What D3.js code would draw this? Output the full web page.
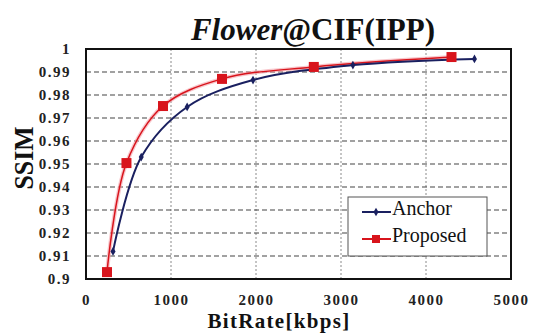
<!DOCTYPE html>
<html>
<head>
<meta charset="utf-8">
<script src="https://cdn.jsdelivr.net/npm/d3@7"></script>
<style>
  body { margin: 0; background: #fff; }
</style>
</head>
<body>
<div id="chart"></div>
<script>
// data
const anchorRate = [318, 650, 1190, 1965, 3140, 4570];
const anchorSsim = [0.912, 0.953, 0.9748, 0.9865, 0.993, 0.9957];
const proposedRate = [247, 476, 906, 1600, 2680, 4300];
const proposedSsim = [0.903, 0.9504, 0.9752, 0.987, 0.9922, 0.9965];
const xTicks = [0, 1000, 2000, 3000, 4000, 5000];
const yTicks = [0.9, 0.91, 0.92, 0.93, 0.94, 0.95, 0.96, 0.97, 0.98, 0.99, 1];

const serif = "Liberation Serif";
const width = 533, height = 333;
const margin = {top: 49, right: 22, bottom: 54, left: 86};
const innerW = width - margin.left - margin.right;
const innerH = height - margin.top - margin.bottom;

const svg = d3.select("#chart").append("svg")
  .attr("width", width)
  .attr("height", height);

const bounds = svg.append("g")
  .attr("transform", `translate(${margin.left},${margin.top})`);

const xScale = d3.scaleLinear().domain([0, 5000]).range([0, innerW]);
const yScale = d3.scaleLinear().domain([0.9, 1]).range([innerH, 0]);

// grid: vertical dotted
bounds.append("g")
  .selectAll("line")
  .data(xTicks.slice(1, -1))
  .join("line")
    .attr("x1", d => xScale(d)).attr("x2", d => xScale(d))
    .attr("y1", 0).attr("y2", innerH)
    .attr("stroke", "#8a8a8a")
    .attr("stroke-width", 1)
    .attr("stroke-dasharray", "2,2");

// grid: horizontal dashed
bounds.append("g")
  .selectAll("line")
  .data(yTicks.slice(1, -1))
  .join("line")
    .attr("x1", 0).attr("x2", innerW)
    .attr("y1", d => yScale(d)).attr("y2", d => yScale(d))
    .attr("stroke", "#444")
    .attr("stroke-width", 1.2)
    .attr("stroke-dasharray", "5,3");

// axes (labels only)
const xAxis = bounds.append("g")
  .attr("transform", `translate(0,${innerH})`)
  .call(d3.axisBottom(xScale).tickValues(xTicks).tickSize(0).tickPadding(15).tickFormat(d3.format("d")));
const yAxis = bounds.append("g")
  .call(d3.axisLeft(yScale).tickValues(yTicks).tickSize(0).tickPadding(15).tickFormat(d => d === 1 ? "1" : d3.format(".2~f")(d)));
[xAxis, yAxis].forEach(a => {
  a.attr("font-family", serif);
  a.select(".domain").remove();
  a.selectAll("text")
    .attr("font-family", serif)
    .attr("font-size", 15)
    .attr("font-weight", "bold")
    .attr("letter-spacing", 1.5)
    .attr("fill", "#222");
});

// frame
bounds.append("rect")
  .attr("width", innerW).attr("height", innerH)
  .attr("fill", "none")
  .attr("stroke", "#111")
  .attr("stroke-width", 2);

const line = d3.line()
  .x(d => xScale(d[0]))
  .y(d => yScale(d[1]))
  .curve(d3.curveCatmullRom.alpha(0.5));

const anchor = anchorRate.map((r, i) => [r, anchorSsim[i]]);
const proposed = proposedRate.map((r, i) => [r, proposedSsim[i]]);

// proposed (red, with a soft glow)
bounds.append("path")
  .attr("d", line(proposed))
  .attr("fill", "none")
  .attr("stroke", "#f4a0a8")
  .attr("stroke-opacity", 0.6)
  .attr("stroke-width", 4);
bounds.append("path")
  .attr("d", line(proposed))
  .attr("fill", "none")
  .attr("stroke", "#d8141c")
  .attr("stroke-width", 1.5);

// anchor (navy)
bounds.append("path")
  .attr("d", line(anchor))
  .attr("fill", "none")
  .attr("stroke", "#1a2060")
  .attr("stroke-width", 2);

bounds.append("g")
  .selectAll("rect")
  .data(proposed)
  .join("rect")
    .attr("x", d => xScale(d[0]) - 5)
    .attr("y", d => yScale(d[1]) - 5)
    .attr("width", 10).attr("height", 10)
    .attr("fill", "#d8141c");

bounds.append("g")
  .selectAll("path")
  .data(anchor)
  .join("path")
    .attr("d", d3.symbol(d3.symbolDiamond, 22))
    .attr("transform", d => `translate(${xScale(d[0])},${yScale(d[1])})`)
    .attr("fill", "#1a2060");

// legend
const legend = svg.append("g").attr("transform", "translate(348,197)");
legend.append("rect")
  .attr("width", 139).attr("height", 59)
  .attr("fill", "#fff")
  .attr("stroke", "#555")
  .attr("stroke-width", 1);
const lg1 = legend.append("g").attr("transform", "translate(0,15)");
lg1.append("line").attr("x1", 14).attr("x2", 43).attr("stroke", "#1a2060").attr("stroke-width", 2);
lg1.append("path").attr("d", d3.symbol(d3.symbolDiamond, 22)).attr("transform", "translate(28,0)").attr("fill", "#1a2060");
lg1.append("text").attr("x", 44).attr("y", 3).attr("font-family", serif).attr("font-size", 20).attr("fill", "#111").text("Anchor");
const lg2 = legend.append("g").attr("transform", "translate(0,42)");
lg2.append("line").attr("x1", 14).attr("x2", 43).attr("stroke", "#d8141c").attr("stroke-width", 2);
lg2.append("rect").attr("x", 24).attr("y", -4).attr("width", 8).attr("height", 8).attr("fill", "#d8141c");
lg2.append("text").attr("x", 44).attr("y", 3).attr("font-family", serif).attr("font-size", 20).attr("fill", "#111").text("Proposed");

// title
const title = svg.append("text")
  .attr("x", 313).attr("y", 40)
  .attr("text-anchor", "middle")
  .attr("font-family", serif)
  .attr("font-size", 31)
  .attr("font-weight", "bold")
  .attr("fill", "#111");
title.append("tspan").attr("font-style", "italic").text("Flower");
title.append("tspan").text("@CIF(IPP)");

// axis titles
svg.append("text")
  .attr("x", 279).attr("y", 328)
  .attr("text-anchor", "middle")
  .attr("font-family", serif)
  .attr("font-size", 21)
  .attr("font-weight", "bold")
  .attr("letter-spacing", 1.3)
  .attr("fill", "#111")
  .text("BitRate[kbps]");

svg.append("text")
  .attr("transform", "translate(33,158) rotate(-90)")
  .attr("text-anchor", "middle")
  .attr("font-family", serif)
  .attr("font-size", 28)
  .attr("font-weight", "bold")
  .attr("textLength", 63)
  .attr("lengthAdjust", "spacingAndGlyphs")
  .attr("fill", "#111")
  .text("SSIM");
</script>
</body>
</html>
